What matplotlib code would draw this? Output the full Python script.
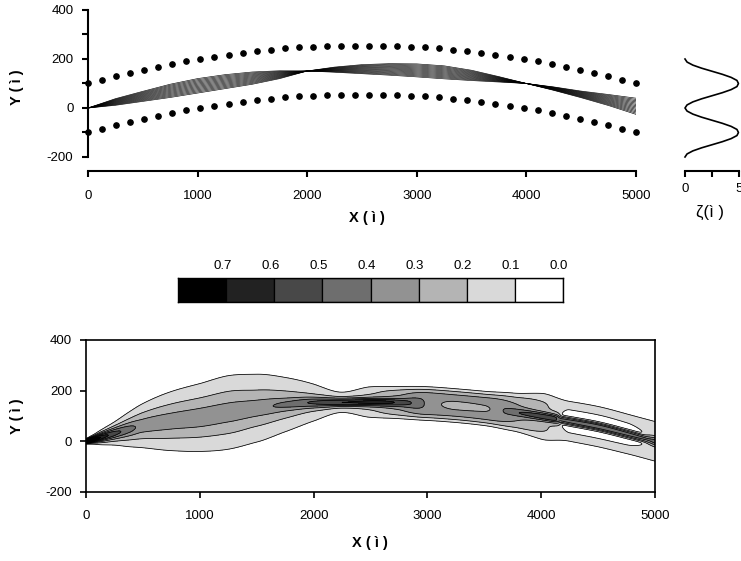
"""
Canal meandrico: trayectorias del thalweg (arriba), perfil zeta (derecha)
y campo de concentracion en contornos (abajo).
"""

import numpy as np
import matplotlib

matplotlib.use("Agg")
import matplotlib.pyplot as plt

plt.rcParams["font.family"] = ["Liberation Sans", "DejaVu Sans"]
plt.rcParams["axes.unicode_minus"] = False

# ---------------------------------------------------------------
# Panel superior: margenes del canal (puntos) y haz de trayectorias
# ---------------------------------------------------------------
bank_x = np.linspace(0, 5000, 40)
bank_upper = [100, 116, 130, 144, 157, 169, 181, 191, 201, 210,
              218, 226, 232, 238, 243, 247, 250, 252, 254, 255,
              255, 254, 252, 250, 247, 243, 238, 232, 226, 218,
              210, 201, 191, 181, 169, 157, 144, 130, 116, 100]
bank_lower = [-100, -84, -70, -56, -43, -31, -19, -9, 1, 10,
              18, 26, 32, 38, 43, 47, 50, 52, 54, 55,
              55, 54, 52, 50, 47, 43, 38, 32, 26, 18,
              10, 1, -9, -19, -31, -43, -56, -70, -84, -100]

path_x = [0, 250, 500, 750, 1000, 1250, 1500, 1750, 2000, 2250, 2500,
          2750, 3000, 3250, 3500, 3750, 4000, 4250, 4500, 4750, 5000]
path_a = [0, 38, 68, 97, 120, 136, 147, 152, 151, 146, 140,
          134, 127, 119, 112, 106, 100, 86, 69, 55, 40]
path_b = [0, 11, 27, 43, 61, 79, 97, 120, 151, 167, 177,
          181, 180, 172, 154, 128, 100, 72, 42, 10, -26]
n_paths = 14

# perfil zeta(y)
zeta_y = [-200, -187.5, -175, -162.5, -150, -137.5, -125, -112.5, -100,
          -87.5, -75, -62.5, -50, -37.5, -25, -12.5, 0,
          12.5, 25, 37.5, 50, 62.5, 75, 87.5, 100,
          112.5, 125, 137.5, 150, 162.5, 175, 187.5, 200]
zeta_v = [0.0, 0.19, 0.73, 1.54, 2.5, 3.46, 4.27, 4.81, 4.95,
          4.81, 4.27, 3.46, 2.5, 1.54, 0.73, 0.19, 0.0,
          0.19, 0.73, 1.54, 2.5, 3.46, 4.27, 4.81, 4.95,
          4.81, 4.27, 3.46, 2.5, 1.54, 0.73, 0.19, 0.0]

# ---------------------------------------------------------------
# Panel inferior: parametros del penacho leidos por estacion
# ---------------------------------------------------------------
st_x = [0, 60, 125, 250, 375, 500, 750, 1000, 1250, 1500, 1750, 2000,
        2250, 2500, 2750, 3000, 3250, 3500, 3750, 4000, 4250,
        4500, 4750, 5000]
st_centre = [0, 7, 15, 31, 47, 62, 80, 94, 114, 131, 145, 153,
             154, 155, 153, 149, 141, 130, 116, 99, 79,
             58, 30, 0]
core_amp = [1.5, 0.65, 0.42, 0.27, 0.17, 0.09, 0.09, 0.1, 0.12, 0.12, 0.18, 0.3,
            0.45, 0.45, 0.28, 0.0, -0.12, -0.1, 0.15, 0.35, 0.45,
            0.48, 0.45, 0.4]
core_w = [6, 10, 14, 20, 25, 30, 35, 38, 35, 35, 25, 20,
          16, 16, 16, 25, 25, 25, 16, 17, 16,
          16, 16, 16]
halo_amp = [0.28, 0.28, 0.28, 0.28, 0.28, 0.28, 0.28, 0.28, 0.28, 0.26, 0.25, 0.22,
            0.15, 0.2, 0.3, 0.38, 0.38, 0.38, 0.32, 0.22, 0.16,
            0.16, 0.16, 0.16]
halo_w = [8, 16, 27, 45, 67, 86, 115, 132, 143, 137, 112, 82,
          50, 66, 62, 62, 62, 63, 72, 80, 20,
          20, 21, 40]
halo_p = [2, 2, 2, 2, 2, 2, 2, 2, 2, 2, 2, 2,
          4, 4, 4, 4, 4, 4, 4, 4, 4,
          4, 4, 4]
halo_off = [0, 0, 0, 0, 0, 0, 0, 0, 0, 0, 0, 0,
            0, 0, 0, 0, 0, 0, 0, 15, 62,
            63, 61, 45]

levels = [0.1, 0.2, 0.3, 0.4, 0.5, 0.6, 0.7]
fill_colors = ["#d9d9d9", "#b4b4b4", "#929292", "#6e6e6e",
               "#484848", "#222222", "#000000"]

# barra de escala
cb_colors = ["#000000", "#222222", "#484848", "#6e6e6e",
             "#929292", "#b4b4b4", "#d9d9d9", "#ffffff"]
cb_labels = ["0.7", "0.6", "0.5", "0.4", "0.3", "0.2", "0.1", "0.0"]

W, H = 741, 561


def px_axes(fig, left, top, right, bottom):
    """Crea ejes a partir de coordenadas en pixeles de la imagen."""
    return fig.add_axes([left / W, 1 - bottom / H, (right - left) / W, (bottom - top) / H])


def pchip(xk, yk, xq):
    """Interpolacion cubica monotona (Fritsch-Carlson) de los parametros."""
    xk = np.asarray(xk, dtype=float)
    yk = np.asarray(yk, dtype=float)
    h = np.diff(xk)
    delta = np.diff(yk) / h
    m = np.zeros_like(yk)
    m[0], m[-1] = delta[0], delta[-1]
    for k in range(1, len(xk) - 1):
        if delta[k - 1] * delta[k] > 0:
            w1 = 2 * h[k] + h[k - 1]
            w2 = h[k] + 2 * h[k - 1]
            m[k] = (w1 + w2) / (w1 / delta[k - 1] + w2 / delta[k])
    i = np.clip(np.searchsorted(xk, xq, side="right") - 1, 0, len(xk) - 2)
    t = (xq - xk[i]) / h[i]
    h00 = 2 * t**3 - 3 * t**2 + 1
    h10 = t**3 - 2 * t**2 + t
    h01 = -2 * t**3 + 3 * t**2
    h11 = t**3 - t**2
    return h00 * yk[i] + h10 * h[i] * m[i] + h01 * yk[i + 1] + h11 * h[i] * m[i + 1]


fig = plt.figure(figsize=(W / 100, H / 100), dpi=100)

# ----------------------------- arriba
ax1 = px_axes(fig, 88, 10, 636, 157)
ax1.plot(bank_x, bank_upper, "o", color="black", ms=3.8, clip_on=False)
ax1.plot(bank_x, bank_lower, "o", color="black", ms=3.8, clip_on=False)
pa = np.array(path_a, dtype=float)
pb = np.array(path_b, dtype=float)
for f in np.linspace(0, 1, n_paths):
    ax1.plot(path_x, pa + f * (pb - pa), color="black", lw=0.45)
ax1.set_xlim(0, 5000)
ax1.set_ylim(-200, 400)
ax1.set_xticks([0, 1000, 2000, 3000, 4000, 5000])
ax1.set_yticks([-200, 0, 200, 400])
ax1.set_yticks([-100, 100, 300], minor=True)
for s in ["top", "right"]:
    ax1.spines[s].set_visible(False)
ax1.spines["bottom"].set_position(("outward", 10))
for s in ["left", "bottom"]:
    ax1.spines[s].set_linewidth(1.5)
ax1.tick_params(axis="both", which="both", width=1.5, length=4.5, labelsize=9.5)
ax1.tick_params(axis="x", pad=9)
ax1.tick_params(axis="y", pad=6)

# ----------------------------- zeta
axz = px_axes(fig, 685, 10, 739, 157)
axz.plot(zeta_v, zeta_y, color="black", lw=1.2, clip_on=False)
axz.set_xlim(0, 5)
axz.set_ylim(-200, 400)
axz.set_xticks([0, 2.5, 5])
axz.set_xticklabels(["0", "", "5"])
axz.set_yticks([])
for s in ["top", "right", "left"]:
    axz.spines[s].set_visible(False)
axz.spines["bottom"].set_position(("outward", 10))
axz.spines["bottom"].set_linewidth(1.5)
axz.tick_params(axis="x", width=1.5, length=4.5, labelsize=9.5, pad=4)

# ----------------------------- barra
axc = px_axes(fig, 178, 278, 563, 302)
axc.bar(np.arange(8) + 0.5, 1, width=1, color=cb_colors, edgecolor="black", linewidth=0.9)
axc.set_xlim(0, 8)
axc.set_ylim(0, 1)
axc.xaxis.tick_top()
axc.set_xticks(np.arange(1, 9) - 0.08)
axc.set_xticklabels(cb_labels)
axc.set_yticks([])
axc.tick_params(axis="x", length=0, labelsize=9.5, pad=4)
for s in axc.spines.values():
    s.set_linewidth(1.0)

# ----------------------------- contornos
ax2 = px_axes(fig, 86, 340, 655, 492)
gx = np.linspace(0, 5000, 501)
gy = np.linspace(-200, 400, 301)
GX, GY = np.meshgrid(gx, gy)


def along(v):
    return pchip(st_x, v, gx)[None, :]


d = GY - along(st_centre)
hw = along(halo_w)
ho = along(halo_off)
hp = along(halo_p)
core = along(core_amp) * np.exp(-(d / along(core_w)) ** 2)
halo = along(halo_amp) * np.maximum(np.exp(-np.abs((d - ho) / hw) ** hp),
                                    np.exp(-np.abs((d + ho) / hw) ** hp))
field = core + halo

ax2.contourf(gx, gy, field, levels=levels + [50], colors=fill_colors)
ax2.contour(gx, gy, field, levels=levels, colors="black", linewidths=0.55)
ax2.set_xlim(0, 5000)
ax2.set_ylim(-200, 400)
ax2.set_xticks([0, 1000, 2000, 3000, 4000, 5000])
ax2.set_yticks([-200, 0, 200, 400])
for s in ax2.spines.values():
    s.set_linewidth(1.2)
ax2.tick_params(axis="both", width=1.2, length=4, labelsize=9.5)
ax2.tick_params(axis="x", pad=9)
ax2.tick_params(axis="y", pad=6)

# ----------------------------- rotulos
lab = dict(fontsize=10.5, fontweight="bold", ha="center", va="center")
fig.text(367 / W, 1 - 218 / H, "X ( ì )", **lab)
fig.text(17 / W, 1 - 87 / H, "Y ( ì )", rotation=90, **lab)
fig.text(370 / W, 1 - 543 / H, "X ( ì )", **lab)
fig.text(17 / W, 1 - 416 / H, "Y ( ì )", rotation=90, **lab)
fig.text(710 / W, 1 - 212 / H, "ζ(ì )", fontsize=12, ha="center", va="center")

fig.savefig("out.png", dpi=100)
